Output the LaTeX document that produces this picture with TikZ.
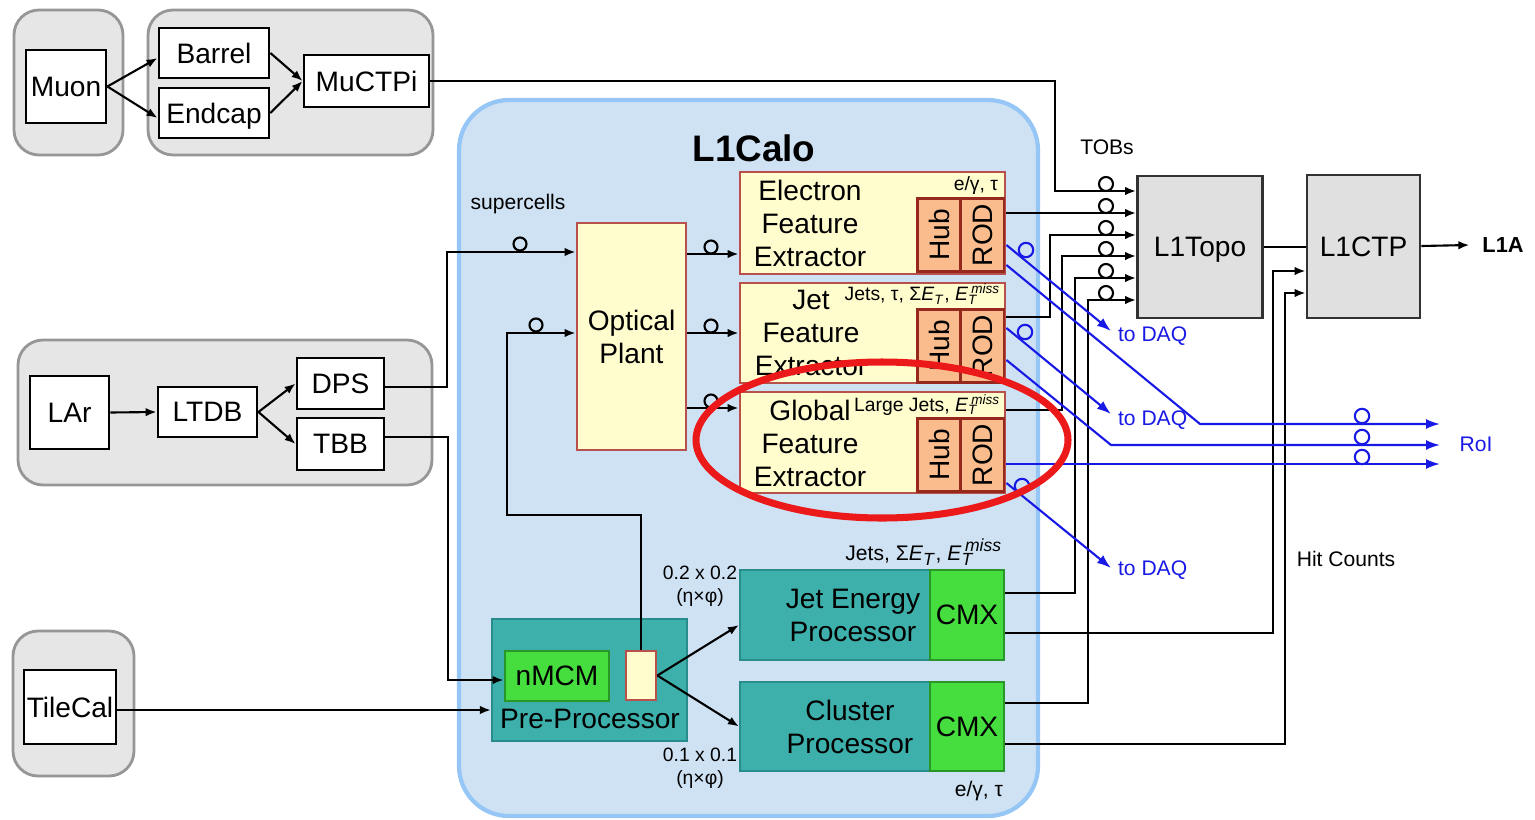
\documentclass[tikz,border=0pt]{standalone}
\usepackage{fontspec}
\setmainfont{Liberation Sans}
\usetikzlibrary{arrows.meta, positioning}
\definecolor{grpfill}{RGB}{230,230,230}
\definecolor{grpline}{RGB}{150,150,150}
\definecolor{calofill}{RGB}{207,226,243}
\definecolor{caloline}{RGB}{150,198,245}
\definecolor{fexfill}{RGB}{255,253,206}
\definecolor{fexline}{RGB}{184,80,76}
\definecolor{hubfill}{RGB}{250,188,140}
\definecolor{hubline}{RGB}{150,40,30}
\definecolor{ppteal}{RGB}{62,176,172}
\definecolor{ppline}{RGB}{40,140,138}
\definecolor{cmxgreen}{RGB}{70,222,62}
\definecolor{cmxline}{RGB}{40,150,40}
\definecolor{topofill}{RGB}{224,224,224}
\definecolor{topoline}{RGB}{50,50,50}
\definecolor{daqblue}{RGB}{25,25,230}
\definecolor{ringred}{RGB}{235,25,25}
\newcommand{\eT}{\textit{E}\textsubscript{\itshape T}}
\newcommand{\eTmiss}{\textit{E}\rlap{\textsubscript{\itshape T}}\,\textsuperscript{\itshape miss}}

\begin{document}
\begin{tikzpicture}[x=0.1mm, y=-0.1mm, line width=0.6pt,
      every node/.style={font=\fontsize{8}{9.4}\selectfont, inner sep=0pt, align=center},
      lbl/.style={font=\fontsize{6}{7}\selectfont},
      minor/.style={font=\fontsize{5.5}{6.5}\selectfont},
      grp/.style={draw=grpline, fill=grpfill, rounded corners=2.5mm, line width=0.8pt},
      blk/.style={draw=black, fill=white, line width=0.8pt, text depth=0pt},
      fex/.style={draw=fexline, fill=fexfill, line width=0.8pt},
      hr/.style={draw=hubline, fill=hubfill, line width=0.8pt, rotate=90,
                 minimum width=7.3mm, minimum height=4.3mm},
      proc/.style={draw=ppline, fill=ppteal, line width=0.6pt},
      cmx/.style={draw=cmxline, fill=cmxgreen, line width=0.8pt},
      topo/.style={draw=topoline, fill=topofill, line width=0.8pt, text depth=0pt},
      wire/.style={-{Latex[length=1.1mm, width=0.85mm]}},
      daq/.style={daqblue, -{Latex[length=1.4mm, width=1mm]}}]
    \useasboundingbox (0,0) rectangle (1535,819);
    % detector groups
    \node[grp, minimum width=10.9mm, minimum height=14.5mm] (gmuon) at (68.5,82.5) {};
    \node[grp, minimum width=28.5mm, minimum height=14.5mm] (gmusl) at (290.5,82.5) {};
    \node[grp, minimum width=41.4mm, minimum height=14.5mm] (glar) at (225,412.5) {};
    \node[grp, minimum width=12.1mm, minimum height=14.5mm] (gtile) at (73.5,703.5) {};
    \node[draw=caloline, fill=calofill, line width=1.2pt, rounded corners=5mm,
          minimum width=57.9mm, minimum height=71.6mm] (calo) at (748.5,458) {};
    \node[font=\fontsize{10.5}{12}\selectfont\bfseries] (calot) at (754,148) {L1Calo};
    \node[lbl] (scells) at (518,204) {supercells};
    \node[blk, minimum width=8mm, minimum height=7.3mm] (muon) at (66,86.5) {Muon};
    \node[blk, minimum width=11mm, minimum height=5mm] (barrel) at (214,53) {Barrel};
    \node[blk, minimum width=11mm, minimum height=5mm] (endcap) at (214,113) {Endcap};
    \node[blk, minimum width=12.5mm, minimum height=5.2mm] (muctpi) at (366.5,81) {MuCTPi};
    \node[blk, minimum width=7.9mm, minimum height=7.3mm] (lar) at (69.5,412.5) {LAr};
    \node[blk, minimum width=9.9mm, minimum height=5mm] (ltdb) at (207.5,412) {LTDB};
    \node[blk, minimum width=8.7mm, minimum height=5.1mm] (dps) at (340.5,383.5) {DPS};
    \node[blk, minimum width=8.7mm, minimum height=5.2mm] (tbb) at (340.5,444) {TBB};
    \node[blk, minimum width=9.2mm, minimum height=7.4mm] (tilecal) at (70,707) {TileCal};
    % feature extractors
    \node[fex, minimum width=10.9mm, minimum height=22.7mm] (optical) at (631.5,336.5) {Optical\\Plant};
    \node[fex, minimum width=26.5mm, minimum height=10.2mm] (efex) at (872.5,223) {};
    \node[fex, minimum width=26.5mm, minimum height=10mm] (jfex) at (872.5,333) {};
    \node[fex, minimum width=26.5mm, minimum height=10.1mm] (gfex) at (872.5,442.5) {};
    \node (efext) at (810,223) {Electron\\Feature\\Extractor};
    \node (jfext) at (811,333) {Jet\\Feature\\Extractor};
    \node (gfext) at (810,443) {Global\\Feature\\Extractor};
    \node[hr] (ehub) at (939,235) {Hub};
    \node[hr] (erod) at (982.5,235) {ROD};
    \node[hr] (jhub) at (939,346) {Hub};
    \node[hr] (jrod) at (982.5,346) {ROD};
    \node[hr] (ghub) at (939,455) {Hub};
    \node[hr] (grod) at (982.5,455) {ROD};
    \node[minor, anchor=east] (etag) at (999,185) {e/γ, τ};
    \node[minor, anchor=east] (jtag) at (1002,294) {Jets, τ, Σ\eT, \eTmiss};
    \node[minor, anchor=east] (gtag) at (1002,405) {Large Jets, \eTmiss};
    % legacy processors
    \node[proc, minimum width=19.5mm, minimum height=12.2mm] (preproc) at (589.5,680) {};
    \node[cmx, minimum width=10.4mm, minimum height=5mm] (nmcm) at (557,676) {nMCM};
    \node[fex, minimum width=3mm, minimum height=4.9mm] (ppout) at (641,675.5) {};
    \node (pptxt) at (590,719) {Pre-Processor};
    \node[proc, minimum width=19mm, minimum height=9mm] (jep) at (835,615) {};
    \node[cmx, minimum width=7.4mm, minimum height=9mm] (jcmx) at (967,615) {CMX};
    \node (jeptxt) at (853,615) {Jet Energy\\Processor};
    \node[proc, minimum width=19mm, minimum height=8.9mm] (cp) at (835,726.5) {};
    \node[cmx, minimum width=7.4mm, minimum height=8.9mm] (ccmx) at (967,726.5) {CMX};
    \node (cptxt) at (850,727) {Cluster\\Processor};
    \node[lbl, anchor=east] (jeptag) at (1004,552) {Jets, Σ\eT, \eTmiss};
    \node[lbl, anchor=east] (cptag) at (1004,791) {e/γ, τ};
    \node[minor] (gran1) at (700,586) {0.2 x 0.2\\(η×φ)};
    \node[minor] (gran2) at (700,768) {0.1 x 0.1\\(η×φ)};
    % central trigger
    \node[topo, minimum width=12.5mm, minimum height=14.2mm] (l1topo) at (1200,247) {L1Topo};
    \node[topo, minimum width=11.3mm, minimum height=14.3mm] (l1ctp) at (1363.5,246.5) {L1CTP};
    \node[font=\fontsize{6.2}{7}\selectfont\bfseries] (l1a) at (1503,245) {L1A};
    \node[lbl] (tobs) at (1107,147) {TOBs};
    \node[lbl] (hits) at (1346,559) {Hit Counts};
    \node[lbl, daqblue, anchor=west] (daq1) at (1117,336) {to DAQ};
    \node[lbl, daqblue, anchor=west] (daq2) at (1117,420) {to DAQ};
    \node[lbl, daqblue, anchor=west] (daq3) at (1117,570) {to DAQ};
    \node[lbl, daqblue] (roi) at (1476,444) {RoI};
    \coordinate (daqa) at (1111,331);
    \coordinate (daqb) at (1111,414);
    \coordinate (daqc) at (1111,568);
    \coordinate (roia) at (1440,424);
    \coordinate (roib) at (1440,445);
    \coordinate (roic) at (1440,464);
    % connections
    \draw[wire] (muon.east) -- ([yshift=-0.5mm]barrel.west);
    \draw[wire] (muon.east) -- ([yshift=-0.5mm]endcap.west);
    \draw[wire] (barrel.east) -- (muctpi.west);
    \draw[wire] (endcap.east) -- (muctpi.west);
    \draw[wire] (lar.east) -- (ltdb.west);
    \draw[wire] (ltdb.east) -- (dps.west);
    \draw[wire] (ltdb.east) -- (tbb.west);
    \draw[wire] (dps.east |- 0,387) -| (447,252) -- (optical.west |- 0,252);
    \draw[wire] (tbb.east |- 0,437) -| (448,680) -- (nmcm.west |- 0,680);
    \draw[wire] (tilecal.east |- 0,710) -- (preproc.west |- 0,710);
    \draw[wire] (ppout.north) |- (507,515) |- (optical.west |- 0,333);
    \foreach \y in {254,333,408}
      \draw[wire] (optical.east |- 0,\y) -- (efex.west |- 0,\y);
    \draw[wire] (ppout.east) -- ([yshift=-1mm]jep.west);
    \draw[wire] (ppout.east) -- (cp.west);
    \draw[wire] (muctpi.east) -| (1055,191) -- (l1topo.west |- 0,191);
    \draw[wire] (efex.east |- 0,213) -- (l1topo.west |- 0,213);
    \draw[wire] (jfex.east |- 0,317) -| (1050,235) -- (l1topo.west |- 0,235);
    \draw[wire] (gfex.east |- 0,410) -| (1062,256) -- (l1topo.west |- 0,256);
    \draw[wire] (jcmx.east |- 0,593) -| (1075,278) -- (l1topo.west |- 0,278);
    \draw[wire] (ccmx.east |- 0,703) -| (1088,300) -- (l1topo.west |- 0,300);
    \draw (l1topo.east |- 0,247) -- (l1ctp.west |- 0,247);
    \draw[wire] (jcmx.east |- 0,633) -| (1273,271) -- (l1ctp.west |- 0,271);
    \draw[wire] (ccmx.east |- 0,744) -| (1285,293) -- (l1ctp.west |- 0,293);
    \draw[wire] (l1ctp.east |- 0,246) -- ([xshift=-1.2mm]l1a.west);
    \foreach \x/\y in {520/244, 536/325, 711/247, 711/326, 711/401}
      \draw (\x,\y) circle [radius=0.65mm];
    \foreach \y in {184,206,228,249,271,293}
      \draw (1106,\y) circle [radius=0.7mm];
    % readout paths
    \draw[daq] (efex.east |- 0,245) -- (daqa);
    \draw[daq] (efex.east |- 0,265) -- (1200,424) -- (roia);
    \draw[daq] (jfex.east |- 0,328) -- (daqb);
    \draw[daq] (jfex.east |- 0,360) -- (1111,445) -- (roib);
    \draw[daq] (gfex.east |- 0,464) -- (roic);
    \draw[daq] (gfex.east |- 0,483) -- (daqc);
    \foreach \x/\y in {1026/250, 1025/332, 1022/486, 1362/416, 1362/437, 1362/457}
      \draw[daqblue] (\x,\y) circle [radius=0.72mm];
    \draw[ringred, line width=2pt] (882,440) ellipse [x radius=18.6mm, y radius=7.8mm];
  \end{tikzpicture}
\end{document}
